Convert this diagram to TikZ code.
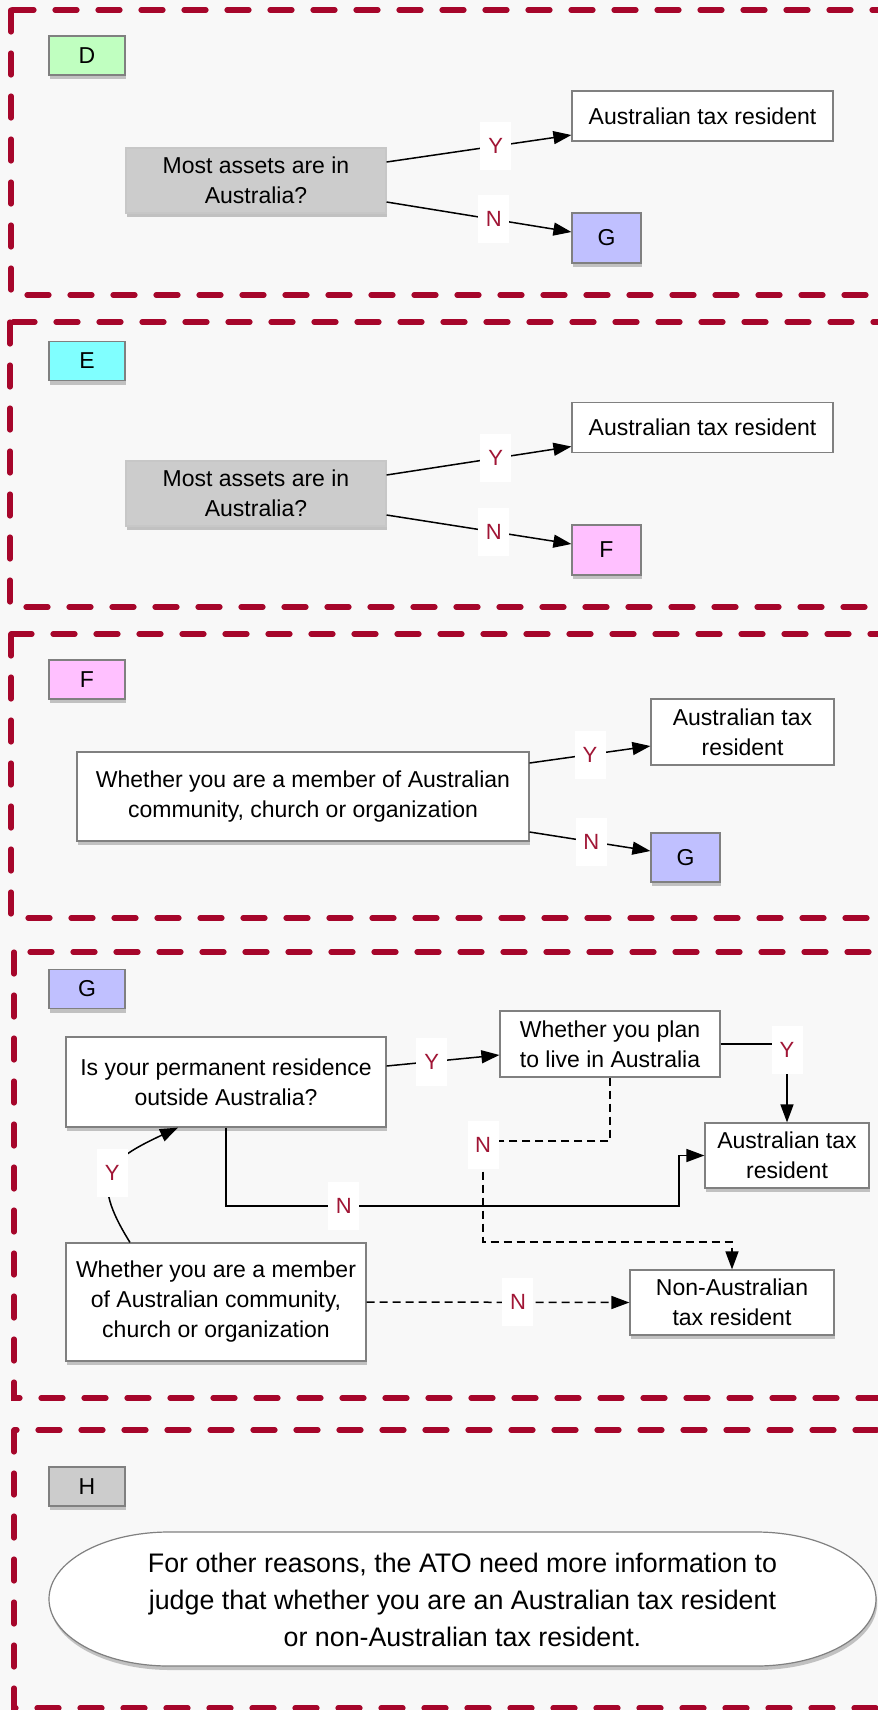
\documentclass[tikz,border=0pt]{standalone}
\usepackage{fontspec}
\setmainfont{Liberation Sans}
\usetikzlibrary{arrows.meta,shadows}

\definecolor{framered}{HTML}{A6062B}
\definecolor{ynred}{HTML}{A01535}
\definecolor{pagegrey}{HTML}{F8F8F8}
\definecolor{boxline}{HTML}{808080}
\definecolor{tagD}{HTML}{C0FFC0}
\definecolor{tagE}{HTML}{80FFFF}
\definecolor{tagF}{HTML}{FFC0FF}
\definecolor{tagG}{HTML}{C0C0FF}
\definecolor{tagH}{HTML}{CCCCCC}

\tikzset{
  secframe/.style={draw=framered, line width=2.6pt, line cap=round, dash pattern=on 11pt off 10.5pt},
  box/.style={draw=boxline, line width=0.6pt, fill=white, inner sep=0pt, align=center, font=\fontsize{11.5}{15}\selectfont},
  shad/.style={drop shadow={shadow xshift=0.6pt, shadow yshift=-2pt, opacity=0.45}},
  tag/.style={box, shad, minimum width=38pt, minimum height=19.5pt},
  ask/.style={box, shad, fill=tagH, draw=black!22},
  yn/.style={fill=white, text=ynred, inner sep=0pt, minimum width=15.5pt, minimum height=24pt, font=\fontsize{11}{12}\selectfont},
  link/.style={line width=0.75pt, ->},
  dlink/.style={link, dash pattern=on 4pt off 2.5pt},
}

\begin{document}
\begin{tikzpicture}[x=0.5pt, y=0.5pt, >={Triangle[length=9pt,width=6.5pt]}]
 \clip (0,0) rectangle (878,-1710);
 \fill[pagegrey] (0,0) rectangle (878,-1710);

 \draw[secframe] (11,-10) rectangle (920,-295);
 \draw[secframe] (10,-322) rectangle (920,-607);
 \draw[secframe] (11,-634) rectangle (920,-918);
 \draw[secframe] (14,-952) rectangle (920,-1398);
 \draw[secframe] (14,-1430) rectangle (920,-1708);

 \node[tag, fill=tagD] (tagD) at (87,-55.5) {D};
 \node[ask, minimum width=130pt, minimum height=32.5pt] (askD) at (256,-180.5) {Most assets are in\\Australia?};
 \node[box, minimum width=130.5pt, minimum height=25pt] (resD) at (702.5,-116) {Australian tax resident};
 \node[box, shad, fill=tagG, minimum width=34.5pt, minimum height=25pt] (goD) at (606.5,-238) {G};
 \path[link]
  ([yshift=9.25pt]askD.east) edge node[yn, pos=0.59] (yD) {Y} ([yshift=-9.5pt]resD.west)
  ([yshift=-10.75pt]askD.east) edge node[yn, pos=0.58] (nD) {N} ([yshift=3pt]goD.west);

 \node[tag, fill=tagE] (tagE) at (87,-361) {E};
 \node[ask, minimum width=130pt, minimum height=32.5pt] (askE) at (256,-493.5) {Most assets are in\\Australia?};
 \node[box, minimum width=130.5pt, minimum height=25pt] (resE) at (702.5,-427.5) {Australian tax resident};
 \node[box, shad, fill=tagF, minimum width=34.5pt, minimum height=25pt] (goE) at (606.5,-550) {F};
 \path[link]
  ([yshift=9.25pt]askE.east) edge node[yn, pos=0.59] (yE) {Y} ([yshift=-9.5pt]resE.west)
  ([yshift=-10.75pt]askE.east) edge node[yn, pos=0.58] (nE) {N} ([yshift=3pt]goE.west);

 \node[tag, fill=tagF] (tagF) at (87,-679.5) {F};
 \node[box, shad, minimum width=226pt, minimum height=44.5pt] (askF) at (303,-796.5) {Whether you are a member of Australian\\community, church or organization};
 \node[box, minimum width=91.5pt, minimum height=33pt] (resF) at (742.5,-732) {Australian tax\\resident};
 \node[box, shad, fill=tagG, minimum width=34.5pt, minimum height=24.5pt] (goF) at (685.5,-857.5) {G};
 \path[link]
  ([yshift=16.75pt]askF.east) edge node[yn, pos=0.5] (yF) {Y} ([yshift=-7pt]resF.west)
  ([yshift=-17.75pt]askF.east) edge node[yn, pos=0.51] (nF) {N} ([yshift=3.25pt]goF.west);

 \node[tag, fill=tagG] (tagG) at (87,-989) {G};
 \node[box, shad, minimum width=160pt, minimum height=45pt] (permRes) at (226,-1082) {Is your permanent residence\\outside Australia?};
 \node[box, minimum width=110pt, minimum height=33pt] (planLive) at (610,-1044) {Whether you plan\\to live in Australia};
 \node[box, shad, minimum width=82pt, minimum height=32.5pt] (resG) at (787,-1155.5) {Australian tax\\resident};
 \node[box, shad, minimum width=102pt, minimum height=32.5pt] (nonRes) at (732,-1302.5) {Non-Australian\\tax resident};
 \node[box, shad, minimum width=150pt, minimum height=59pt] (member) at (216,-1302) {Whether you are a member\\of Australian community,\\church or organization};
 \coordinate (jog) at (679,-1206);
 \coordinate (nFork) at (483,-1141);
 \coordinate (nLow) at (483,-1242);

 \draw[link] ([yshift=8pt]permRes.east) -- node[yn, pos=0.4] (yG1) {Y} ([yshift=-5.5pt]planLive.west);
 \draw[link] (planLive.east) -| node[yn, pos=0.5, yshift=-3pt] (yG2) {Y} (resG.north);
 \draw[link] (permRes.south) |- node[yn, pos=0.63] (nG1) {N} (jog) |- (resG.west);
 \draw[dlink] (planLive.south) |- (nFork) -- (nLow) -| (nonRes.north);
 \node[yn, yshift=-2pt] (nG2) at (nFork) {N};
 \draw[link] ([xshift=-43pt]member.north) to[out=122, in=205, looseness=1.6] node[yn] (yG3) {Y} ([xshift=-24pt]permRes.south);
 \draw[dlink] (member.east) -- node[yn, pos=0.576] (nG3) {N} (nonRes.west);

 \node[tag, fill=tagH] (tagH) at (87,-1486.5) {H};
 \filldraw[draw=boxline, fill=white, line width=0.6pt, shad] (169,-1532) -- (756,-1532)
  arc[start angle=90, end angle=-90, x radius=60pt, y radius=33.5pt] -- (169,-1666)
  arc[start angle=270, end angle=90, x radius=60pt, y radius=33.5pt] -- cycle;
 \node[align=center, font=\fontsize{13.4}{18.5}\selectfont] (otherNote) at (462.5,-1600) {For other reasons, the ATO need more information to\\judge that whether you are an Australian tax resident\\or non-Australian tax resident.};
\end{tikzpicture}
\end{document}
